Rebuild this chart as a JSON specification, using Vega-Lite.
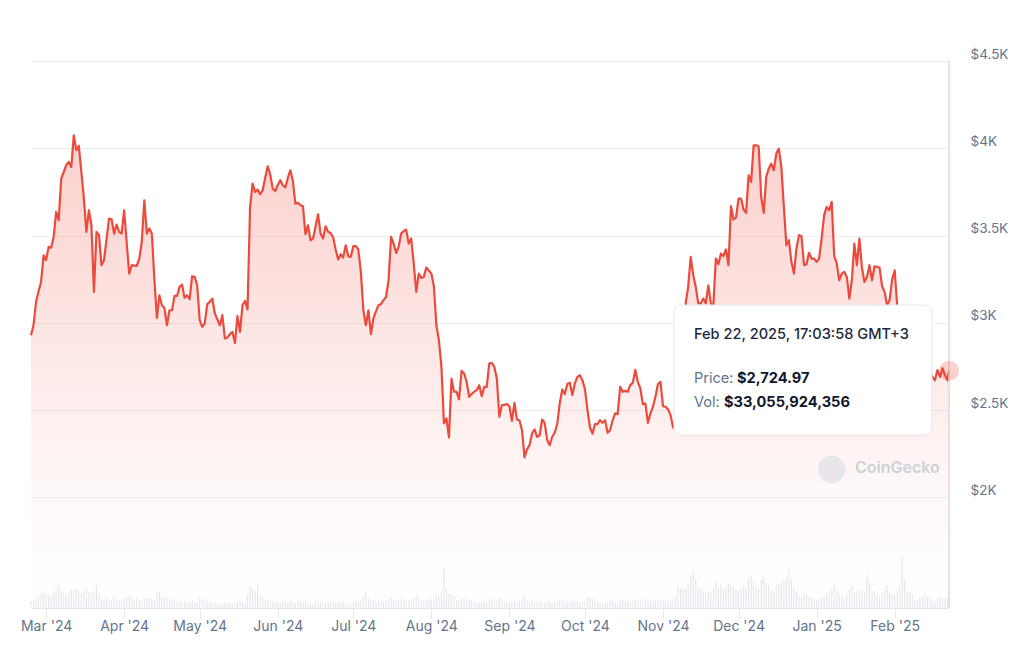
{
"$schema":"https://vega.github.io/schema/vega-lite/v6.json",
"width":918,"height":547,
"autosize":{"type":"none"},
"padding":{"left":31,"top":61,"right":75,"bottom":43},
"background":"white",
"config":{"font":"Inter","view":{"stroke":null}},
"datasets":{"eth":[
{"date":"2024-02-24","price":2929,"volume":13},{"date":"2024-02-25","price":2986,"volume":15},{"date":"2024-02-26","price":3120,"volume":17},{"date":"2024-02-27","price":3180,"volume":22},{"date":"2024-02-28","price":3234,"volume":30},{"date":"2024-02-29","price":3387,"volume":28},
{"date":"2024-03-01","price":3359,"volume":26},{"date":"2024-03-02","price":3435,"volume":24},{"date":"2024-03-03","price":3430,"volume":22},{"date":"2024-03-04","price":3492,"volume":30},{"date":"2024-03-05","price":3635,"volume":38},{"date":"2024-03-06","price":3588,"volume":45},{"date":"2024-03-07","price":3826,"volume":34},{"date":"2024-03-08","price":3864,"volume":28},{"date":"2024-03-09","price":3903,"volume":24},{"date":"2024-03-10","price":3922,"volume":30},{"date":"2024-03-11","price":3893,"volume":36},{"date":"2024-03-12","price":4074,"volume":35},{"date":"2024-03-13","price":3989,"volume":38},{"date":"2024-03-14","price":4013,"volume":30},{"date":"2024-03-15","price":3864,"volume":28},{"date":"2024-03-16","price":3712,"volume":34},{"date":"2024-03-17","price":3521,"volume":40},{"date":"2024-03-18","price":3645,"volume":30},{"date":"2024-03-19","price":3559,"volume":28},{"date":"2024-03-20","price":3177,"volume":32},{"date":"2024-03-21","price":3521,"volume":44},{"date":"2024-03-22","price":3502,"volume":28},{"date":"2024-03-23","price":3330,"volume":18},{"date":"2024-03-24","price":3359,"volume":16},{"date":"2024-03-25","price":3480,"volume":20},{"date":"2024-03-26","price":3597,"volume":17},{"date":"2024-03-27","price":3593,"volume":15},{"date":"2024-03-28","price":3511,"volume":22},{"date":"2024-03-29","price":3563,"volume":18},{"date":"2024-03-30","price":3521,"volume":16},{"date":"2024-03-31","price":3511,"volume":14},
{"date":"2024-04-01","price":3645,"volume":18},{"date":"2024-04-02","price":3460,"volume":22},{"date":"2024-04-03","price":3282,"volume":26},{"date":"2024-04-04","price":3330,"volume":20},{"date":"2024-04-05","price":3328,"volume":17},{"date":"2024-04-06","price":3326,"volume":19},{"date":"2024-04-07","price":3368,"volume":15},{"date":"2024-04-08","price":3463,"volume":14},{"date":"2024-04-09","price":3702,"volume":20},{"date":"2024-04-10","price":3511,"volume":18},{"date":"2024-04-11","price":3540,"volume":19},{"date":"2024-04-12","price":3511,"volume":17},{"date":"2024-04-13","price":3250,"volume":16},{"date":"2024-04-14","price":3028,"volume":30},{"date":"2024-04-15","price":3158,"volume":32},{"date":"2024-04-16","price":3101,"volume":24},{"date":"2024-04-17","price":3085,"volume":22},{"date":"2024-04-18","price":2986,"volume":20},{"date":"2024-04-19","price":3072,"volume":18},{"date":"2024-04-20","price":3072,"volume":16},{"date":"2024-04-21","price":3154,"volume":14},{"date":"2024-04-22","price":3154,"volume":12},{"date":"2024-04-23","price":3206,"volume":12},{"date":"2024-04-24","price":3219,"volume":13},{"date":"2024-04-25","price":3143,"volume":12},{"date":"2024-04-26","price":3158,"volume":11},{"date":"2024-04-27","price":3135,"volume":12},{"date":"2024-04-28","price":3267,"volume":14},{"date":"2024-04-29","price":3263,"volume":11},{"date":"2024-04-30","price":3215,"volume":12},
{"date":"2024-05-01","price":3015,"volume":20},{"date":"2024-05-02","price":2977,"volume":18},{"date":"2024-05-03","price":2996,"volume":14},{"date":"2024-05-04","price":3107,"volume":13},{"date":"2024-05-05","price":3120,"volume":11},{"date":"2024-05-06","price":3139,"volume":10},{"date":"2024-05-07","price":3053,"volume":12},{"date":"2024-05-08","price":3020,"volume":10},{"date":"2024-05-09","price":2986,"volume":9},{"date":"2024-05-10","price":3044,"volume":8},{"date":"2024-05-11","price":2910,"volume":10},{"date":"2024-05-12","price":2916,"volume":11},{"date":"2024-05-13","price":2935,"volume":9},{"date":"2024-05-14","price":2948,"volume":8},{"date":"2024-05-15","price":2885,"volume":10},{"date":"2024-05-16","price":3038,"volume":12},{"date":"2024-05-17","price":2948,"volume":14},{"date":"2024-05-18","price":3101,"volume":11},{"date":"2024-05-19","price":3126,"volume":10},{"date":"2024-05-20","price":3076,"volume":25},{"date":"2024-05-21","price":3664,"volume":42},{"date":"2024-05-22","price":3798,"volume":38},{"date":"2024-05-23","price":3750,"volume":34},{"date":"2024-05-24","price":3763,"volume":46},{"date":"2024-05-25","price":3737,"volume":25},{"date":"2024-05-26","price":3759,"volume":20},{"date":"2024-05-27","price":3830,"volume":15},{"date":"2024-05-28","price":3897,"volume":16},{"date":"2024-05-29","price":3851,"volume":14},{"date":"2024-05-30","price":3769,"volume":13},{"date":"2024-05-31","price":3755,"volume":12},
{"date":"2024-06-01","price":3790,"volume":10},{"date":"2024-06-02","price":3817,"volume":9},{"date":"2024-06-03","price":3788,"volume":12},{"date":"2024-06-04","price":3775,"volume":13},{"date":"2024-06-05","price":3830,"volume":11},{"date":"2024-06-06","price":3874,"volume":14},{"date":"2024-06-07","price":3813,"volume":10},{"date":"2024-06-08","price":3683,"volume":9},{"date":"2024-06-09","price":3687,"volume":15},{"date":"2024-06-10","price":3675,"volume":13},{"date":"2024-06-11","price":3668,"volume":12},{"date":"2024-06-12","price":3508,"volume":16},{"date":"2024-06-13","price":3559,"volume":10},{"date":"2024-06-14","price":3473,"volume":9},{"date":"2024-06-15","price":3483,"volume":8},{"date":"2024-06-16","price":3550,"volume":14},{"date":"2024-06-17","price":3622,"volume":13},{"date":"2024-06-18","price":3511,"volume":12},{"date":"2024-06-19","price":3483,"volume":11},{"date":"2024-06-20","price":3553,"volume":10},{"date":"2024-06-21","price":3521,"volume":12},{"date":"2024-06-22","price":3515,"volume":9},{"date":"2024-06-23","price":3489,"volume":13},{"date":"2024-06-24","price":3420,"volume":11},{"date":"2024-06-25","price":3363,"volume":14},{"date":"2024-06-26","price":3393,"volume":10},{"date":"2024-06-27","price":3374,"volume":12},{"date":"2024-06-28","price":3444,"volume":9},{"date":"2024-06-29","price":3381,"volume":8},{"date":"2024-06-30","price":3378,"volume":10},
{"date":"2024-07-01","price":3439,"volume":11},{"date":"2024-07-02","price":3439,"volume":14},{"date":"2024-07-03","price":3420,"volume":13},{"date":"2024-07-04","price":3292,"volume":15},{"date":"2024-07-05","price":3072,"volume":22},{"date":"2024-07-06","price":2986,"volume":31},{"date":"2024-07-07","price":3072,"volume":18},{"date":"2024-07-08","price":2935,"volume":15},{"date":"2024-07-09","price":3025,"volume":14},{"date":"2024-07-10","price":3065,"volume":12},{"date":"2024-07-11","price":3101,"volume":16},{"date":"2024-07-12","price":3107,"volume":12},{"date":"2024-07-13","price":3130,"volume":13},{"date":"2024-07-14","price":3148,"volume":14},{"date":"2024-07-15","price":3244,"volume":18},{"date":"2024-07-16","price":3492,"volume":22},{"date":"2024-07-17","price":3454,"volume":17},{"date":"2024-07-18","price":3400,"volume":13},{"date":"2024-07-19","price":3435,"volume":16},{"date":"2024-07-20","price":3511,"volume":18},{"date":"2024-07-21","price":3526,"volume":15},{"date":"2024-07-22","price":3534,"volume":14},{"date":"2024-07-23","price":3454,"volume":15},{"date":"2024-07-24","price":3483,"volume":16},{"date":"2024-07-25","price":3340,"volume":20},{"date":"2024-07-26","price":3177,"volume":24},{"date":"2024-07-27","price":3282,"volume":18},{"date":"2024-07-28","price":3257,"volume":13},{"date":"2024-07-29","price":3263,"volume":14},{"date":"2024-07-30","price":3317,"volume":15},{"date":"2024-07-31","price":3300,"volume":16},
{"date":"2024-08-01","price":3282,"volume":18},{"date":"2024-08-02","price":3210,"volume":22},{"date":"2024-08-03","price":2986,"volume":26},{"date":"2024-08-04","price":2900,"volume":24},{"date":"2024-08-05","price":2748,"volume":30},{"date":"2024-08-06","price":2424,"volume":76},{"date":"2024-08-07","price":2452,"volume":38},{"date":"2024-08-08","price":2343,"volume":28},{"date":"2024-08-09","price":2681,"volume":26},{"date":"2024-08-10","price":2605,"volume":24},{"date":"2024-08-11","price":2605,"volume":16},{"date":"2024-08-12","price":2561,"volume":14},{"date":"2024-08-13","price":2725,"volume":18},{"date":"2024-08-14","price":2710,"volume":20},{"date":"2024-08-15","price":2662,"volume":15},{"date":"2024-08-16","price":2576,"volume":16},{"date":"2024-08-17","price":2592,"volume":14},{"date":"2024-08-18","price":2605,"volume":12},{"date":"2024-08-19","price":2614,"volume":11},{"date":"2024-08-20","price":2643,"volume":10},{"date":"2024-08-21","price":2580,"volume":12},{"date":"2024-08-22","price":2633,"volume":13},{"date":"2024-08-23","price":2633,"volume":11},{"date":"2024-08-24","price":2767,"volume":16},{"date":"2024-08-25","price":2771,"volume":17},{"date":"2024-08-26","price":2748,"volume":14},{"date":"2024-08-27","price":2681,"volume":13},{"date":"2024-08-28","price":2461,"volume":20},{"date":"2024-08-29","price":2528,"volume":16},{"date":"2024-08-30","price":2530,"volume":12},{"date":"2024-08-31","price":2534,"volume":10},
{"date":"2024-09-01","price":2522,"volume":11},{"date":"2024-09-02","price":2438,"volume":12},{"date":"2024-09-03","price":2541,"volume":14},{"date":"2024-09-04","price":2446,"volume":13},{"date":"2024-09-05","price":2442,"volume":15},{"date":"2024-09-06","price":2385,"volume":18},{"date":"2024-09-07","price":2229,"volume":24},{"date":"2024-09-08","price":2275,"volume":14},{"date":"2024-09-09","price":2299,"volume":10},{"date":"2024-09-10","price":2366,"volume":14},{"date":"2024-09-11","price":2389,"volume":13},{"date":"2024-09-12","price":2347,"volume":12},{"date":"2024-09-13","price":2356,"volume":11},{"date":"2024-09-14","price":2446,"volume":12},{"date":"2024-09-15","price":2427,"volume":10},{"date":"2024-09-16","price":2328,"volume":13},{"date":"2024-09-17","price":2299,"volume":12},{"date":"2024-09-18","price":2347,"volume":11},{"date":"2024-09-19","price":2370,"volume":13},{"date":"2024-09-20","price":2420,"volume":14},{"date":"2024-09-21","price":2540,"volume":16},{"date":"2024-09-22","price":2618,"volume":18},{"date":"2024-09-23","price":2592,"volume":14},{"date":"2024-09-24","price":2649,"volume":12},{"date":"2024-09-25","price":2656,"volume":13},{"date":"2024-09-26","price":2586,"volume":15},{"date":"2024-09-27","price":2653,"volume":12},{"date":"2024-09-28","price":2690,"volume":13},{"date":"2024-09-29","price":2700,"volume":11},{"date":"2024-09-30","price":2670,"volume":10},
{"date":"2024-10-01","price":2620,"volume":13},{"date":"2024-10-02","price":2500,"volume":20},{"date":"2024-10-03","price":2400,"volume":22},{"date":"2024-10-04","price":2365,"volume":18},{"date":"2024-10-05","price":2420,"volume":13},{"date":"2024-10-06","price":2420,"volume":11},{"date":"2024-10-07","price":2442,"volume":10},{"date":"2024-10-08","price":2427,"volume":9},{"date":"2024-10-09","price":2442,"volume":11},{"date":"2024-10-10","price":2370,"volume":12},{"date":"2024-10-11","price":2385,"volume":13},{"date":"2024-10-12","price":2442,"volume":14},{"date":"2024-10-13","price":2481,"volume":12},{"date":"2024-10-14","price":2477,"volume":10},{"date":"2024-10-15","price":2633,"volume":18},{"date":"2024-10-16","price":2605,"volume":16},{"date":"2024-10-17","price":2610,"volume":13},{"date":"2024-10-18","price":2605,"volume":12},{"date":"2024-10-19","price":2643,"volume":14},{"date":"2024-10-20","price":2656,"volume":13},{"date":"2024-10-21","price":2730,"volume":18},{"date":"2024-10-22","price":2662,"volume":16},{"date":"2024-10-23","price":2624,"volume":14},{"date":"2024-10-24","price":2534,"volume":13},{"date":"2024-10-25","price":2538,"volume":18},{"date":"2024-10-26","price":2427,"volume":16},{"date":"2024-10-27","price":2481,"volume":14},{"date":"2024-10-28","price":2519,"volume":12},{"date":"2024-10-29","price":2576,"volume":15},{"date":"2024-10-30","price":2649,"volume":17},{"date":"2024-10-31","price":2662,"volume":16},
{"date":"2024-11-01","price":2522,"volume":15},{"date":"2024-11-02","price":2519,"volume":13},{"date":"2024-11-03","price":2504,"volume":14},{"date":"2024-11-04","price":2471,"volume":16},{"date":"2024-11-05","price":2400,"volume":18},{"date":"2024-11-06","price":2420,"volume":22},{"date":"2024-11-07","price":2720,"volume":42},{"date":"2024-11-08","price":2895,"volume":38},{"date":"2024-11-09","price":2960,"volume":35},{"date":"2024-11-10","price":3111,"volume":40},{"date":"2024-11-11","price":3206,"volume":46},{"date":"2024-11-12","price":3378,"volume":62},{"date":"2024-11-13","price":3273,"volume":68},{"date":"2024-11-14","price":3206,"volume":56},{"date":"2024-11-15","price":3111,"volume":40},{"date":"2024-11-16","price":3111,"volume":36},{"date":"2024-11-17","price":3139,"volume":32},{"date":"2024-11-18","price":3111,"volume":30},{"date":"2024-11-19","price":3215,"volume":34},{"date":"2024-11-20","price":3111,"volume":28},{"date":"2024-11-21","price":3101,"volume":40},{"date":"2024-11-22","price":3368,"volume":52},{"date":"2024-11-23","price":3336,"volume":38},{"date":"2024-11-24","price":3397,"volume":46},{"date":"2024-11-25","price":3382,"volume":36},{"date":"2024-11-26","price":3420,"volume":42},{"date":"2024-11-27","price":3330,"volume":48},{"date":"2024-11-28","price":3668,"volume":44},{"date":"2024-11-29","price":3592,"volume":38},{"date":"2024-11-30","price":3603,"volume":36},
{"date":"2024-12-01","price":3712,"volume":34},{"date":"2024-12-02","price":3712,"volume":38},{"date":"2024-12-03","price":3649,"volume":44},{"date":"2024-12-04","price":3630,"volume":42},{"date":"2024-12-05","price":3845,"volume":58},{"date":"2024-12-06","price":3807,"volume":62},{"date":"2024-12-07","price":4017,"volume":52},{"date":"2024-12-08","price":4017,"volume":40},{"date":"2024-12-09","price":4010,"volume":36},{"date":"2024-12-10","price":3721,"volume":56},{"date":"2024-12-11","price":3630,"volume":60},{"date":"2024-12-12","price":3836,"volume":48},{"date":"2024-12-13","price":3884,"volume":44},{"date":"2024-12-14","price":3912,"volume":36},{"date":"2024-12-15","price":3874,"volume":32},{"date":"2024-12-16","price":3970,"volume":44},{"date":"2024-12-17","price":3998,"volume":46},{"date":"2024-12-18","price":3893,"volume":48},{"date":"2024-12-19","price":3664,"volume":55},{"date":"2024-12-20","price":3444,"volume":60},{"date":"2024-12-21","price":3473,"volume":76},{"date":"2024-12-22","price":3349,"volume":56},{"date":"2024-12-23","price":3282,"volume":40},{"date":"2024-12-24","price":3426,"volume":32},{"date":"2024-12-25","price":3502,"volume":24},{"date":"2024-12-26","price":3496,"volume":20},{"date":"2024-12-27","price":3330,"volume":28},{"date":"2024-12-28","price":3336,"volume":26},{"date":"2024-12-29","price":3401,"volume":22},{"date":"2024-12-30","price":3368,"volume":20},{"date":"2024-12-31","price":3368,"volume":18},
{"date":"2025-01-01","price":3349,"volume":16},{"date":"2025-01-02","price":3368,"volume":18},{"date":"2025-01-03","price":3483,"volume":20},{"date":"2025-01-04","price":3617,"volume":24},{"date":"2025-01-05","price":3664,"volume":28},{"date":"2025-01-06","price":3645,"volume":30},{"date":"2025-01-07","price":3693,"volume":36},{"date":"2025-01-08","price":3382,"volume":44},{"date":"2025-01-09","price":3340,"volume":34},{"date":"2025-01-10","price":3244,"volume":28},{"date":"2025-01-11","price":3282,"volume":22},{"date":"2025-01-12","price":3292,"volume":18},{"date":"2025-01-13","price":3263,"volume":28},{"date":"2025-01-14","price":3139,"volume":36},{"date":"2025-01-15","price":3244,"volume":44},{"date":"2025-01-16","price":3454,"volume":32},{"date":"2025-01-17","price":3330,"volume":30},{"date":"2025-01-18","price":3483,"volume":34},{"date":"2025-01-19","price":3317,"volume":36},{"date":"2025-01-20","price":3234,"volume":30},{"date":"2025-01-21","price":3263,"volume":64},{"date":"2025-01-22","price":3330,"volume":50},{"date":"2025-01-23","price":3244,"volume":36},{"date":"2025-01-24","price":3324,"volume":32},{"date":"2025-01-25","price":3320,"volume":28},{"date":"2025-01-26","price":3317,"volume":24},{"date":"2025-01-27","price":3210,"volume":30},{"date":"2025-01-28","price":3177,"volume":34},{"date":"2025-01-29","price":3101,"volume":44},{"date":"2025-01-30","price":3130,"volume":30},{"date":"2025-01-31","price":3248,"volume":26},
{"date":"2025-02-01","price":3301,"volume":26},{"date":"2025-02-02","price":3100,"volume":34},{"date":"2025-02-03","price":2870,"volume":40},{"date":"2025-02-04","price":2870,"volume":101},{"date":"2025-02-05","price":2730,"volume":55},{"date":"2025-02-06","price":2790,"volume":30},{"date":"2025-02-07","price":2690,"volume":30},{"date":"2025-02-08","price":2620,"volume":26},{"date":"2025-02-09","price":2630,"volume":16},{"date":"2025-02-10","price":2630,"volume":14},{"date":"2025-02-11","price":2660,"volume":20},{"date":"2025-02-12","price":2600,"volume":22},{"date":"2025-02-13","price":2740,"volume":26},{"date":"2025-02-14","price":2680,"volume":22},{"date":"2025-02-15","price":2720,"volume":20},{"date":"2025-02-16","price":2690,"volume":14},{"date":"2025-02-17","price":2671,"volume":12},{"date":"2025-02-18","price":2729,"volume":20},{"date":"2025-02-19","price":2690,"volume":22},{"date":"2025-02-20","price":2740,"volume":18},{"date":"2025-02-21","price":2700,"volume":20},{"date":"2025-02-22","price":2671,"volume":22},
{"date":"2025-02-22T14:03:58Z","price":2724.97,"volume":33.055924356}
]},
"data":{"name":"eth"},
"encoding":{
 "x":{"field":"date","type":"temporal",
  "scale":{"type":"utc","nice":false,"padding":0,"domain":[{"year":2024,"month":2,"date":24,"utc":true},{"year":2025,"month":2,"date":22,"hours":14,"minutes":3,"seconds":58,"utc":true}]},
  "axis":{"format":"%b '%y","tickCount":{"interval":"month","step":1},"grid":false,"domainColor":"#e5e7eb","domainWidth":1,"tickColor":"#e5e7eb","tickSize":10,"labelPadding":1,"labelFontSize":14,"labelColor":"#64748b","labelFont":"Inter","labelOverlap":false,"labelFlush":false,"title":null}}
},
"layer":[
 {"mark":{"type":"bar","color":"#e4e8ee","size":1.2},
  "encoding":{"y":{"field":"volume","type":"quantitative","scale":{"domain":[0,1063],"nice":false},"axis":null}}},
 {"layer":[
  {"mark":{"type":"area","interpolate":"linear","color":{"gradient":"linear","x1":0,"y1":0,"x2":0,"y2":1,"stops":[{"offset":0,"color":"rgba(240,72,60,0.26)"},{"offset":0.75,"color":"rgba(240,72,60,0.04)"},{"offset":1,"color":"rgba(240,72,60,0)"}]}},
   "encoding":{"y":{"field":"price","type":"quantitative","scale":{"domain":[1366,4500],"nice":false,"zero":false},
     "axis":{"orient":"right","values":[2000,2500,3000,3500,4000,4500],"labelExpr":"'$' + datum.value/1000 + 'K'","grid":true,"gridColor":"#eceef1","gridWidth":1,"domain":false,"ticks":false,"labelPadding":21,"labelOffset":-3,"labelFontSize":13.5,"labelColor":"#64748b","labelFont":"Inter","labelBaseline":"alphabetic","title":null}},
    "y2":{"datum":1366}}},
  {"mark":{"type":"line","color":"#eb4b3d","strokeWidth":2.2,"strokeJoin":"round"},
   "encoding":{"y":{"field":"price","type":"quantitative"}}},
  {"transform":[{"filter":"datum.price == 2724.97"}],
   "mark":{"type":"rule","color":"#d9dce1","strokeWidth":1.5},
   "encoding":{"y":{"datum":4500,"type":"quantitative"},"y2":{"datum":1366}}},
  {"transform":[{"filter":"datum.price == 2724.97"}],
   "mark":{"type":"circle","color":"#f04438","opacity":0.25,"size":400},
   "encoding":{"y":{"field":"price","type":"quantitative"}}},
  {"transform":[{"filter":"datum.price == 2724.97"}],
   "mark":{"type":"circle","color":"#e4e6ea","opacity":0.9,"size":760},
   "encoding":{"x":{"datum":{"year":2025,"month":1,"date":7,"hours":0,"utc":true},"type":"temporal"},"y":{"datum":2160,"type":"quantitative"}}},
  {"transform":[{"filter":"datum.price == 2724.97"}],
   "mark":{"type":"text","text":"CoinGecko","align":"left","baseline":"middle","fontSize":16,"fontWeight":600,"color":"#cdd1d7","font":"Inter"},
   "encoding":{"x":{"datum":{"year":2025,"month":1,"date":16,"hours":6,"utc":true},"type":"temporal"},"y":{"datum":2168,"type":"quantitative"}}},
  {"transform":[{"filter":"datum.price == 2724.97"}],
   "mark":{"type":"rect","fill":"white","stroke":"#e3e6eb","strokeWidth":1,"cornerRadius":8},
   "encoding":{"x":{"datum":{"year":2024,"month":11,"date":5,"hours":9,"utc":true},"type":"temporal"},"x2":{"datum":{"year":2025,"month":2,"date":15,"hours":20,"utc":true}},"y":{"datum":3102,"type":"quantitative"},"y2":{"datum":2357}}},
  {"transform":[{"filter":"datum.price == 2724.97"}],
   "mark":{"type":"text","text":"Feb 22, 2025, 17:03:58 GMT+3","align":"left","baseline":"middle","fontSize":14.6,"fontWeight":500,"color":"#1e293b","font":"Inter"},
   "encoding":{"x":{"datum":{"year":2024,"month":11,"date":13,"hours":7,"utc":true},"type":"temporal"},"y":{"datum":2930,"type":"quantitative"}}},
  {"transform":[{"filter":"datum.price == 2724.97"}],
   "mark":{"type":"text","text":"Price:","align":"left","baseline":"middle","fontSize":14.6,"color":"#64748b","font":"Inter"},
   "encoding":{"x":{"datum":{"year":2024,"month":11,"date":13,"hours":7,"utc":true},"type":"temporal"},"y":{"datum":2678,"type":"quantitative"}}},
  {"transform":[{"filter":"datum.price == 2724.97"}],
   "mark":{"type":"text","text":"$2,724.97","align":"left","baseline":"middle","fontSize":14.6,"fontWeight":700,"color":"#0f172a","font":"Inter","dx":43},
   "encoding":{"x":{"datum":{"year":2024,"month":11,"date":13,"hours":7,"utc":true},"type":"temporal"},"y":{"datum":2678,"type":"quantitative"}}},
  {"transform":[{"filter":"datum.price == 2724.97"}],
   "mark":{"type":"text","text":"Vol:","align":"left","baseline":"middle","fontSize":14.6,"color":"#64748b","font":"Inter"},
   "encoding":{"x":{"datum":{"year":2024,"month":11,"date":13,"hours":7,"utc":true},"type":"temporal"},"y":{"datum":2541,"type":"quantitative"}}},
  {"transform":[{"filter":"datum.price == 2724.97"}],
   "mark":{"type":"text","text":"$33,055,924,356","align":"left","baseline":"middle","fontSize":14.6,"fontWeight":700,"color":"#0f172a","font":"Inter","dx":30},
   "encoding":{"x":{"datum":{"year":2024,"month":11,"date":13,"hours":7,"utc":true},"type":"temporal"},"y":{"datum":2541,"type":"quantitative"}}}
 ]}
],
"resolve":{"scale":{"y":"independent"}}
}
